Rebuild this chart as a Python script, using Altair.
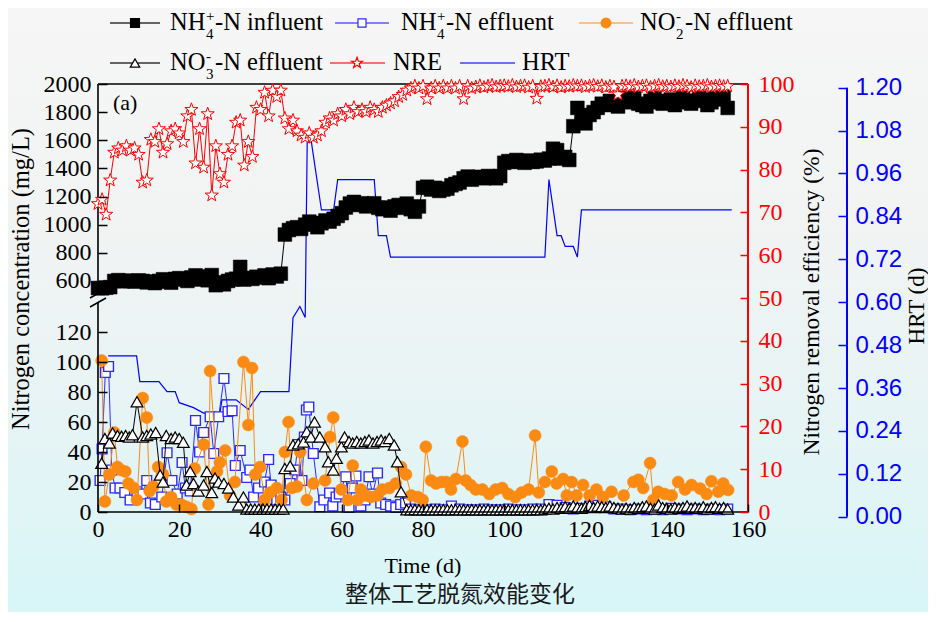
import altair as alt
import pandas as pd

# ---------------- layout ----------------
W, H = 650, 428
PAD = {"left": 90, "top": 76, "right": 180, "bottom": 100}
SERIF = "Liberation Serif, Times New Roman, serif"
SANS = "Liberation Sans, Arial, sans-serif"
CJK = "Noto Sans CJK SC"
BLACK = "#000000"
BLUE_EFF = "#2a2aff"
ORANGE = "#fb8a12"
RED = "#ff0000"
BLUE = "#0000ff"
TICK_FS = 24
STAR = ("M0,-1L0.235,-0.324L0.951,-0.309L0.38,0.124L0.588,0.809L0,0.4"
        "L-0.588,0.809L-0.38,0.124L-0.951,-0.309L-0.235,-0.324Z")

# ---------------- data ----------------
x_ticks = [0, 20, 40, 60, 80, 100, 120, 140, 160]
left_ticks = [0, 20, 40, 60, 80, 100, 120, 600, 800, 1000, 1200, 1400, 1600, 1800, 2000]
nre_ticks = [0, 10, 20, 30, 40, 50, 60, 70, 80, 90, 100]
hrt_ticks = [0.0, 0.12, 0.24, 0.36, 0.48, 0.60, 0.72, 0.84, 0.96, 1.08, 1.20]

# NH4+-N influent, one sample per day (day 0..155)
influent_days = list(range(0, 156))
influent_vals = [
    550, 548, 552, 556,
    600, 606, 598, 602, 600, 596, 604, 600,
    590, 596, 585, 600, 612, 595, 588,
    615, 620, 610,
    600, 625, 640, 610, 632, 605, 642,
    570, 590, 576, 600,
    610, 616,
    700,
    610, 622, 615, 630, 625, 640, 620, 646, 632, 652,
    930,
    962, 975, 982, 970,
    1000, 1022, 1012, 982,
    1010, 1030, 1022, 1042,
    1062, 1082, 1122, 1150,
    1162, 1140, 1152, 1130, 1146, 1152, 1120,
    1110, 1122, 1100, 1130, 1140, 1120, 1150, 1110, 1092, 1130,
    1262, 1270, 1250, 1262, 1240, 1250, 1256, 1280, 1290, 1300,
    1330, 1342, 1320, 1336, 1340, 1330, 1346, 1340, 1330, 1346,
    1440, 1452, 1446, 1460, 1450, 1440, 1456, 1446, 1450, 1462, 1456, 1470,
    1540, 1530,
    1470, 1482, 1460,
    1700, 1830,
    1760, 1720, 1780, 1800,
    1830, 1860, 1850, 1880, 1870, 1840,
    1880, 1900, 1870, 1910, 1860, 1850, 1840, 1880, 1900, 1870,
    1860, 1880, 1890, 1850, 1870, 1900, 1880, 1860, 1880, 1900,
    1890, 1850, 1870, 1900, 1890, 1910, 1830,
]

# NRE (%), one sample per day (day 0..155)
nre_days = list(range(0, 156))
nre_vals = [
    72, 73, 69.5, 77.5, 84, 85, 84.5, 85.5, 84.5, 85,
    83.5, 77, 77.5, 87, 86.5, 89.5, 84, 86, 89, 89.5,
    88.5, 86.5, 92.5, 94, 81.5, 89.5, 80.5, 93, 74, 85.5,
    79, 77, 83.5, 85.5, 91, 91.5, 81, 86.5, 83, 94.5,
    94, 98, 92.5, 98.5, 97, 98.5, 92, 89.5, 91.5, 89,
    88, 87.5, 88.5, 87.5, 88, 89, 91, 92, 91.5, 93,
    92.5, 94, 93, 94.5, 93.5, 94, 93.5, 94.5, 94, 93.5,
    94.5, 95, 95.5, 96, 97, 97.5, 98.5, 99, 99.5, 99,
    99.5, 96.5, 99, 99.5, 99, 99.5, 99, 99.5, 99, 99.5,
    96.5, 99.5, 99, 99.3, 99.6, 99.2, 99.5, 99.7, 99.3, 99.5,
    99.6, 99.4, 99.7, 99.3, 99.5, 99.6, 99.2, 99.5, 96.6, 99.4,
    99.5, 99.7, 99.3, 99.6, 99.2, 99.5, 99.4, 99.7, 99.5, 99.6,
    99.3, 99.5, 99.7, 99.4, 99.6, 99.2, 99.5, 99.3, 97.6, 99.5,
    99.6, 99.4, 99.7, 99.3, 99.5, 99.6, 99.2, 99.5, 99.7, 99.4,
    99.5, 99.3, 99.6, 99.4, 99.7, 99.5, 99.2, 99.6, 99.4, 99.5,
    99.7, 99.3, 99.5, 99.6, 99.4, 99.5,
]

# HRT (d)
hrt_days = [2.5, 9.5, 10.3, 15, 17, 19, 20, 23.5, 26, 30, 30.5, 34, 37, 40, 47, 48,
            49.7, 51, 51.5, 52.5, 55, 58, 59, 68, 69, 71, 72, 110, 111, 113, 114,
            115, 117, 118, 119, 156]
hrt_vals = [0.45, 0.45, 0.378, 0.378, 0.35, 0.35, 0.319, 0.305, 0.29, 0.29, 0.327,
            0.327, 0.30, 0.35, 0.35, 0.557, 0.588, 0.557, 1.05, 1.05, 0.858, 0.858,
            0.943, 0.943, 0.786, 0.786, 0.726, 0.726, 0.943, 0.786, 0.786, 0.756,
            0.756, 0.726, 0.858, 0.858]

# NH4+-N effluent (mg/L)
nh4_eff_days = [0.5, 1, 1.8, 2.6, 3.4, 4.2, 5.4, 6.6, 7.9, 9.6,
                11, 12, 12.9, 14.1, 15.7, 17, 18.2, 19.5, 20.7, 21.5,
                22.7, 24, 25, 26, 27.6, 28.5, 29.7, 31, 32, 33,
                33.8, 35, 36.6, 37.4, 38.3, 39.5, 41, 42, 42.6, 44,
                45, 46, 47.3, 48.5, 49.2, 50.2, 50.8, 51.3, 51.9, 53,
                54.6, 55.6, 57, 57.8, 58.6, 59.4, 61, 61.8, 62.6, 63.5,
                64.7, 65.7, 66.7, 67.6, 68.8, 69.6, 70.8, 72, 73.3, 74.5,
                75.7] + list(range(77, 156, 2))
nh4_eff_vals = [21, 42, 93, 97, 28, 16, 16, 13, 8, 13.5,
                12, 21, 6, 5, 10, 39.5, 21, 12, 33, 16,
                14, 61, 40, 53, 63.5, 39, 63.5, 89, 67, 67.5,
                31, 41, 23, 28, 10, 16, 20, 35, 18, 8,
                10, 8, 19, 28, 45, 21, 50, 68, 70, 39,
                3.5, 8, 12.7, 4, 10, 12, 23.5, 3, 16, 24,
                4, 8, 23.5, 12, 26, 6, 5, 4, 3, 5,
                6,
                2, 1.5, 1.5, 2, 1.5, 4, 2, 1.5, 1.5, 2,
                1.5, 1.5, 2, 1.5, 1.5, 2, 2, 5, 4.5, 3,
                2, 2.5, 4, 4.5, 3.5, 2, 2, 1.5, 2, 1.5,
                2, 1.5, 2.5, 2, 1.5, 2, 1.5, 2, 1.5, 2]

# NO2--N effluent (mg/L)
no2_days = [0.9, 1.7, 2.8, 4, 4.8, 5.6, 6.7, 7.5, 8.8, 9.6,
            11, 12, 12.7, 13.6, 14.8, 16, 16.8, 18, 19.3, 20.5,
            21.7, 23, 23.8, 26, 27.2, 27.6, 29.3, 30, 31.3, 32.5,
            33.7, 35.8, 37, 37.9, 38.7, 39.9, 41, 42.4, 44, 45.2,
            46, 46.9, 47.7, 49, 49.8, 51.4, 53, 55.9, 57.1, 57.9,
            59.9, 61.5, 62.7, 63.9, 64.7, 66, 67.2, 68.8, 70, 71.7,
            73.3, 74.6, 75.8, 77.1, 78.7, 79.9, 80.7, 82, 83.2, 84.5,
            85.7, 86.9, 88.1, 89.7, 90.5, 91.7, 93, 94.6, 96.3, 97.9,
            99.5, 101, 102.7, 104.3, 106, 107.6, 108.5, 110, 111.7, 112.9,
            114.5, 115.4, 116.6, 117.8, 119.4, 121, 122.7, 124.3, 126.4, 129.4,
            131.8, 133, 134.2, 135.9, 136.7, 137.9, 139.5, 141.2, 142.8, 144.5,
            146.1, 148.2, 149.8, 151, 152.7, 153.9, 155.1]
no2_vals = [101, 7, 25, 53, 30, 28, 27, 19, 16, 8,
            76, 63, 14, 17, 30, 25, 7, 10, 5, 5,
            3.5, 2, 29, 45, 5, 94, 27, 33, 41, 11,
            20, 100, 58, 96, 25, 30, 8, 13, 16, 8,
            40, 60, 16, 17, 40, 8, 19, 21, 50, 63,
            15, 8, 31, 8, 15, 11, 10, 11, 15, 16,
            19, 30, 25, 11, 10, 8, 43.5, 21, 19, 20,
            20, 15, 22, 47, 21, 18, 15, 15, 12, 15,
            16, 12, 10, 13, 15, 51, 13, 20, 27, 19,
            22, 11, 20, 11, 18, 11, 15, 10, 13.5, 11,
            20, 21.5, 16, 32.6, 8, 13.5, 12, 11, 20, 15,
            18, 15.6, 12, 20.5, 13.5, 19, 14.7]

# NO3--N effluent (mg/L)
no3_days = [0.9, 1.7, 2.8, 3.6, 4.8, 5.8, 6.8, 7.7, 8.5, 9.6,
            11, 12, 13, 14.2, 15.3, 16, 16.8, 18, 19, 20,
            21, 21.8, 22.7, 23.5, 24.7, 26, 26.8, 28, 28.8, 29.7,
            31, 32.1, 33.3, 34.6, 35.8, 36.6, 37.6, 38.6, 39.6, 40.6,
            41.6, 42.6, 43.6, 44.6, 45.6, 46, 47.3, 48, 49.3, 50.6,
            51.4, 52.4, 53.3, 54.6, 55.9, 56.7, 57.9, 58.7, 59.9, 60.7,
            61.8, 62.7, 63.7, 64.7, 65.7, 66.7, 67.7, 68.7, 69.7, 70.7,
            71.7, 72.9, 73.7, 74.6] + list(range(76, 156))
no3_vals = [32.5, 49, 46, 52.7, 51, 50.5, 51, 50, 51.5, 73.5,
            50, 51, 52, 53, 24.7, 20, 51, 49, 50, 49,
            46.5, 18, 27, 19, 14, 18, 27, 13, 22.7, 20,
            19, 16, 10, 4.7, 10, 2, 2, 2, 2, 2,
            2, 2, 2, 2, 2, 29, 30.7, 44.7, 45.5, 46.7,
            53.5, 50, 60, 50, 43.5, 33.5, 28, 35.8, 43.5, 50,
            47, 46, 47, 46, 47, 48, 46, 47, 48, 47,
            49, 44.7, 33.5, 13.5,
            1.5, 1.5, 1.6, 1.5, 1.5, 1.6, 1.5, 1.5, 1.5, 1.6,
            1.5, 1.5, 1.6, 1.5, 1.5, 1.5, 1.6, 1.5, 1.5, 1.5,
            1.6, 1.5, 1.5, 1.5, 1.6, 1.5, 1.5, 1.5, 1.6, 1.5,
            1.5, 1.5, 1.6, 1.5, 2, 2.5, 2, 3, 2.5, 3.5,
            2.5, 4, 3, 2.5, 3.5, 4.5, 3, 4, 3.5, 3,
            4, 3, 2.5, 2, 2.5, 2, 3, 2.5, 3.5, 4,
            2.5, 2, 4.7, 3, 2.5, 2, 3, 2.5, 3, 4,
            2.5, 3, 2.5, 3.5, 2, 3, 3.5, 2.5, 3, 2]


def frame(days, vals):
    return pd.DataFrame({"day": days, "v": vals})


one = pd.DataFrame({"k": [0]})

# ---------------- scales / axes ----------------
x_axis = alt.Axis(values=x_ticks, title=None, grid=False, domain=False, offset=-8,
                  tickSize=8, tickWidth=1.5, tickColor=BLACK, labelFont=SERIF,
                  labelFontSize=TICK_FS, labelColor=BLACK, labelPadding=5, labelFlush=False,
                  zindex=2)
X = alt.X("day:Q", scale=alt.Scale(domain=[0, 160], nice=False, zero=False), axis=x_axis)

left_scale = alt.Scale(domain=[0, 142.7, 479, 2000], range=[428, 214, 214, 0],
                       nice=False, zero=False)
left_axis = alt.Axis(orient="left", values=left_ticks, format="d", title=None, grid=False,
                     domain=False, offset=-9, tickSize=9, tickWidth=1.5,
                     tickColor=BLACK, labelFont=SERIF, labelFontSize=TICK_FS,
                     labelColor=BLACK, labelPadding=7, labelFlush=False,
                     labelOverlap=False, zindex=2)
YL = alt.Y("v:Q", scale=left_scale, axis=left_axis)

nre_scale = alt.Scale(domain=[0, 100], nice=False, zero=False)
nre_axis = alt.Axis(orient="right", values=nre_ticks, title=None, grid=False,
                    domain=False, offset=-8, tickSize=8, tickWidth=1.5, tickColor=RED,
                    labelFont=SERIF, labelFontSize=TICK_FS, labelColor=RED,
                    labelPadding=10, labelFlush=False, labelOverlap=False, zindex=2)
YR = alt.Y("v:Q", scale=nre_scale, axis=nre_axis)

hrt_scale = alt.Scale(domain=[0, 1.2], range=[432.7, 3.7], nice=False, zero=False)
hrt_axis = alt.Axis(orient="right", values=hrt_ticks, format=".2f", title=None,
                    grid=False, domain=False, offset=90, tickSize=9, tickWidth=1.5,
                    tickColor=BLUE, labelFont=SANS, labelFontSize=TICK_FS, labelColor=BLUE,
                    labelPadding=8, labelFlush=False, labelOverlap=False, zindex=2)
YH = alt.Y("v:Q", scale=hrt_scale, axis=hrt_axis)

# ---------------- background ----------------
bg = alt.Chart(one).mark_rect(
    fill=alt.LinearGradient(
        gradient="linear",
        stops=[alt.GradientStop(color="#f6f6f6", offset=0),
               alt.GradientStop(color="#f1f3f3", offset=0.38),
               alt.GradientStop(color="#e5f4f5", offset=0.72),
               alt.GradientStop(color="#d8f6f8", offset=1)],
        x1=0, x2=0, y1=0, y2=1),
    strokeWidth=0,
).encode(x=alt.value(-PAD["left"]), x2=alt.value(W + PAD["right"]),
         y=alt.value(-PAD["top"]), y2=alt.value(H + PAD["bottom"]))

# ---------------- left-axis series ----------------
eff_df = frame(nh4_eff_days, nh4_eff_vals)
no2_df = frame(no2_days, no2_vals)
no3_df = frame(no3_days, no3_vals)
inf_df = frame(influent_days, influent_vals)

eff_line = alt.Chart(eff_df).mark_line(color=BLUE_EFF, strokeWidth=1).encode(x=X, y=YL)
eff_pts = alt.Chart(eff_df).mark_point(shape="square", size=95, filled=True, fill="white",
                                       stroke=BLUE_EFF, strokeWidth=1.4, opacity=1
                                       ).encode(x=X, y=YL)
no2_line = alt.Chart(no2_df).mark_line(color=ORANGE, strokeWidth=1).encode(x=X, y=YL)
no2_pts = alt.Chart(no2_df).mark_point(shape="circle", size=145, filled=True, fill=ORANGE,
                                       stroke=ORANGE, strokeWidth=0.5, opacity=1
                                       ).encode(x=X, y=YL)
no3_line = alt.Chart(no3_df).mark_line(color=BLACK, strokeWidth=1).encode(x=X, y=YL)
no3_pts = alt.Chart(no3_df).mark_point(shape="triangle-up", size=140, filled=True, fill="white",
                                       stroke=BLACK, strokeWidth=1.2, opacity=1
                                       ).encode(x=X, y=YL)
inf_line = alt.Chart(inf_df).mark_line(color=BLACK, strokeWidth=1).encode(x=X, y=YL)
inf_pts = alt.Chart(inf_df).mark_point(shape="square", size=190, filled=True, fill=BLACK,
                                       stroke=BLACK, strokeWidth=0.5, opacity=1
                                       ).encode(x=X, y=YL)

frame_df = pd.DataFrame({"day": [0, 0, 0, 0, 0, 160, 0, 160],
                         "v": [0, 140, 515, 2000, 2000, 2000, 0, 0],
                         "seg": ["a", "a", "b", "b", "c", "c", "d", "d"]})
frame_lines = alt.Chart(frame_df).mark_line(color=BLACK, strokeWidth=1.6).encode(
    x=X, y=YL, detail="seg:N")

left_group = alt.layer(eff_line, eff_pts, no2_line, no2_pts, no3_line, no3_pts,
                       inf_line, inf_pts, frame_lines)

# ---------------- NRE ----------------
nre_df = frame(nre_days, nre_vals)
nre_line = alt.Chart(nre_df).mark_line(color=RED, strokeWidth=1).encode(x=X, y=YR)
nre_pts = alt.Chart(nre_df).mark_point(shape=STAR, size=190, filled=True, fill="white",
                                       stroke=RED, strokeWidth=1, opacity=1
                                       ).encode(x=X, y=YR)
red_edge = alt.Chart(frame([160, 160], [0, 100])).mark_line(color=RED, strokeWidth=2
                                                           ).encode(x=X, y=YR)
nre_group = alt.layer(nre_line, nre_pts, red_edge)

# ---------------- HRT ----------------
hrt_df = frame(hrt_days, hrt_vals)
hrt_line = alt.Chart(hrt_df).mark_line(color=BLUE, strokeWidth=1.2).encode(x=X, y=YH)
hrt_edge = alt.Chart(pd.DataFrame({"v": [0.0], "hi": [1.2]})).mark_rule(
    color=BLUE, strokeWidth=2).encode(x=alt.value(W + 99), y=YH, y2="hi:Q")
hrt_group = alt.layer(hrt_line, hrt_edge)


# ---------------- decorations ----------------
def text(t, x, y, size=22, font=SERIF, color=BLACK, align="center", baseline="middle", angle=0):
    return alt.Chart(one).mark_text(text=t, font=font, fontSize=size, color=color,
                                    align=align, baseline=baseline, angle=angle
                                    ).encode(x=alt.value(x), y=alt.value(y))


def seg(x1, x2, y1, y2, color=BLACK, width=1.5):
    return alt.Chart(one).mark_rule(color=color, strokeWidth=width).encode(
        x=alt.value(x1), x2=alt.value(x2), y=alt.value(y1), y2=alt.value(y2))


def sym(x, y, shape, fill, stroke, size):
    return alt.Chart(one).mark_point(shape=shape, size=size, filled=True, fill=fill,
                                     stroke=stroke, strokeWidth=1.2, opacity=1
                                     ).encode(x=alt.value(x), y=alt.value(y))


LEG = 24.5


def chem(x, y, main, sub, sup, rest):
    return [text(main, x, y, LEG, align="left"),
            text(sub, x + 36, y + 11, 15, align="left"),
            text(sup, x + 36, y - 7, 15, align="left"),
            text(rest, x + 45, y, LEG, align="left")]


decor = [
    seg(-8, 8, 214, 205), seg(-8, 8, 223, 214),
    text("(a)", 15, 19, 22, align="left"),
    text("Nitrogen concentration (mg/L)", -76, 195, 24.5, angle=270),
    text("Nitrogen removal efficiency (%)", 714, 218, 23.5, angle=270),
    text("HRT (d)", 819, 222, 23, angle=270),
    text("Time (d)", 325, 482, 22),
    text("整体工艺脱氮效能变化", 362, 511, 23, font=CJK, color="#1a1a1a"),
]

R1, R2 = -61, -21
legend = [
    seg(12, 62, R1, R1, "#333333", 1.3), sym(37, R1, "square", BLACK, BLACK, 80),
    *chem(72, R1, "NH", "4", "+", "-N influent"),
    seg(237, 291, R1, R1, "#5a5aff", 1.3), sym(264, R1, "square", "white", BLUE_EFF, 65),
    *chem(303, R1, "NH", "4", "+", "-N effluent"),
    seg(481, 535, R1, R1, "#fbb060", 1.3), sym(508, R1, "circle", ORANGE, ORANGE, 95),
    *chem(542, R1, "NO", "2", "-", "-N effluent"),
    seg(12, 62, R2, R2, "#333333", 1.3), sym(37, R2, "triangle-up", "white", BLACK, 90),
    *chem(72, R2, "NO", "3", "-", "-N effluent"),
    seg(232, 287, R2, R2, "#ff4040", 1.3), sym(259, R2, STAR, "white", RED, 130),
    text("NRE", 295, R2, LEG, align="left"),
    seg(362, 417, R2, R2, "#4040ff", 1.3),
    text("HRT", 424, R2, LEG, align="left"),
]

chart = alt.layer(bg, hrt_group, left_group, nre_group, *decor, *legend).resolve_scale(
    y="independent"
).properties(
    width=W, height=H, padding=PAD, autosize=alt.AutoSizeParams(type="none"),
    background="#ffffff",
).configure_view(stroke=None)

chart.save("out.html", embed_options={"renderer": "svg", "actions": False})
